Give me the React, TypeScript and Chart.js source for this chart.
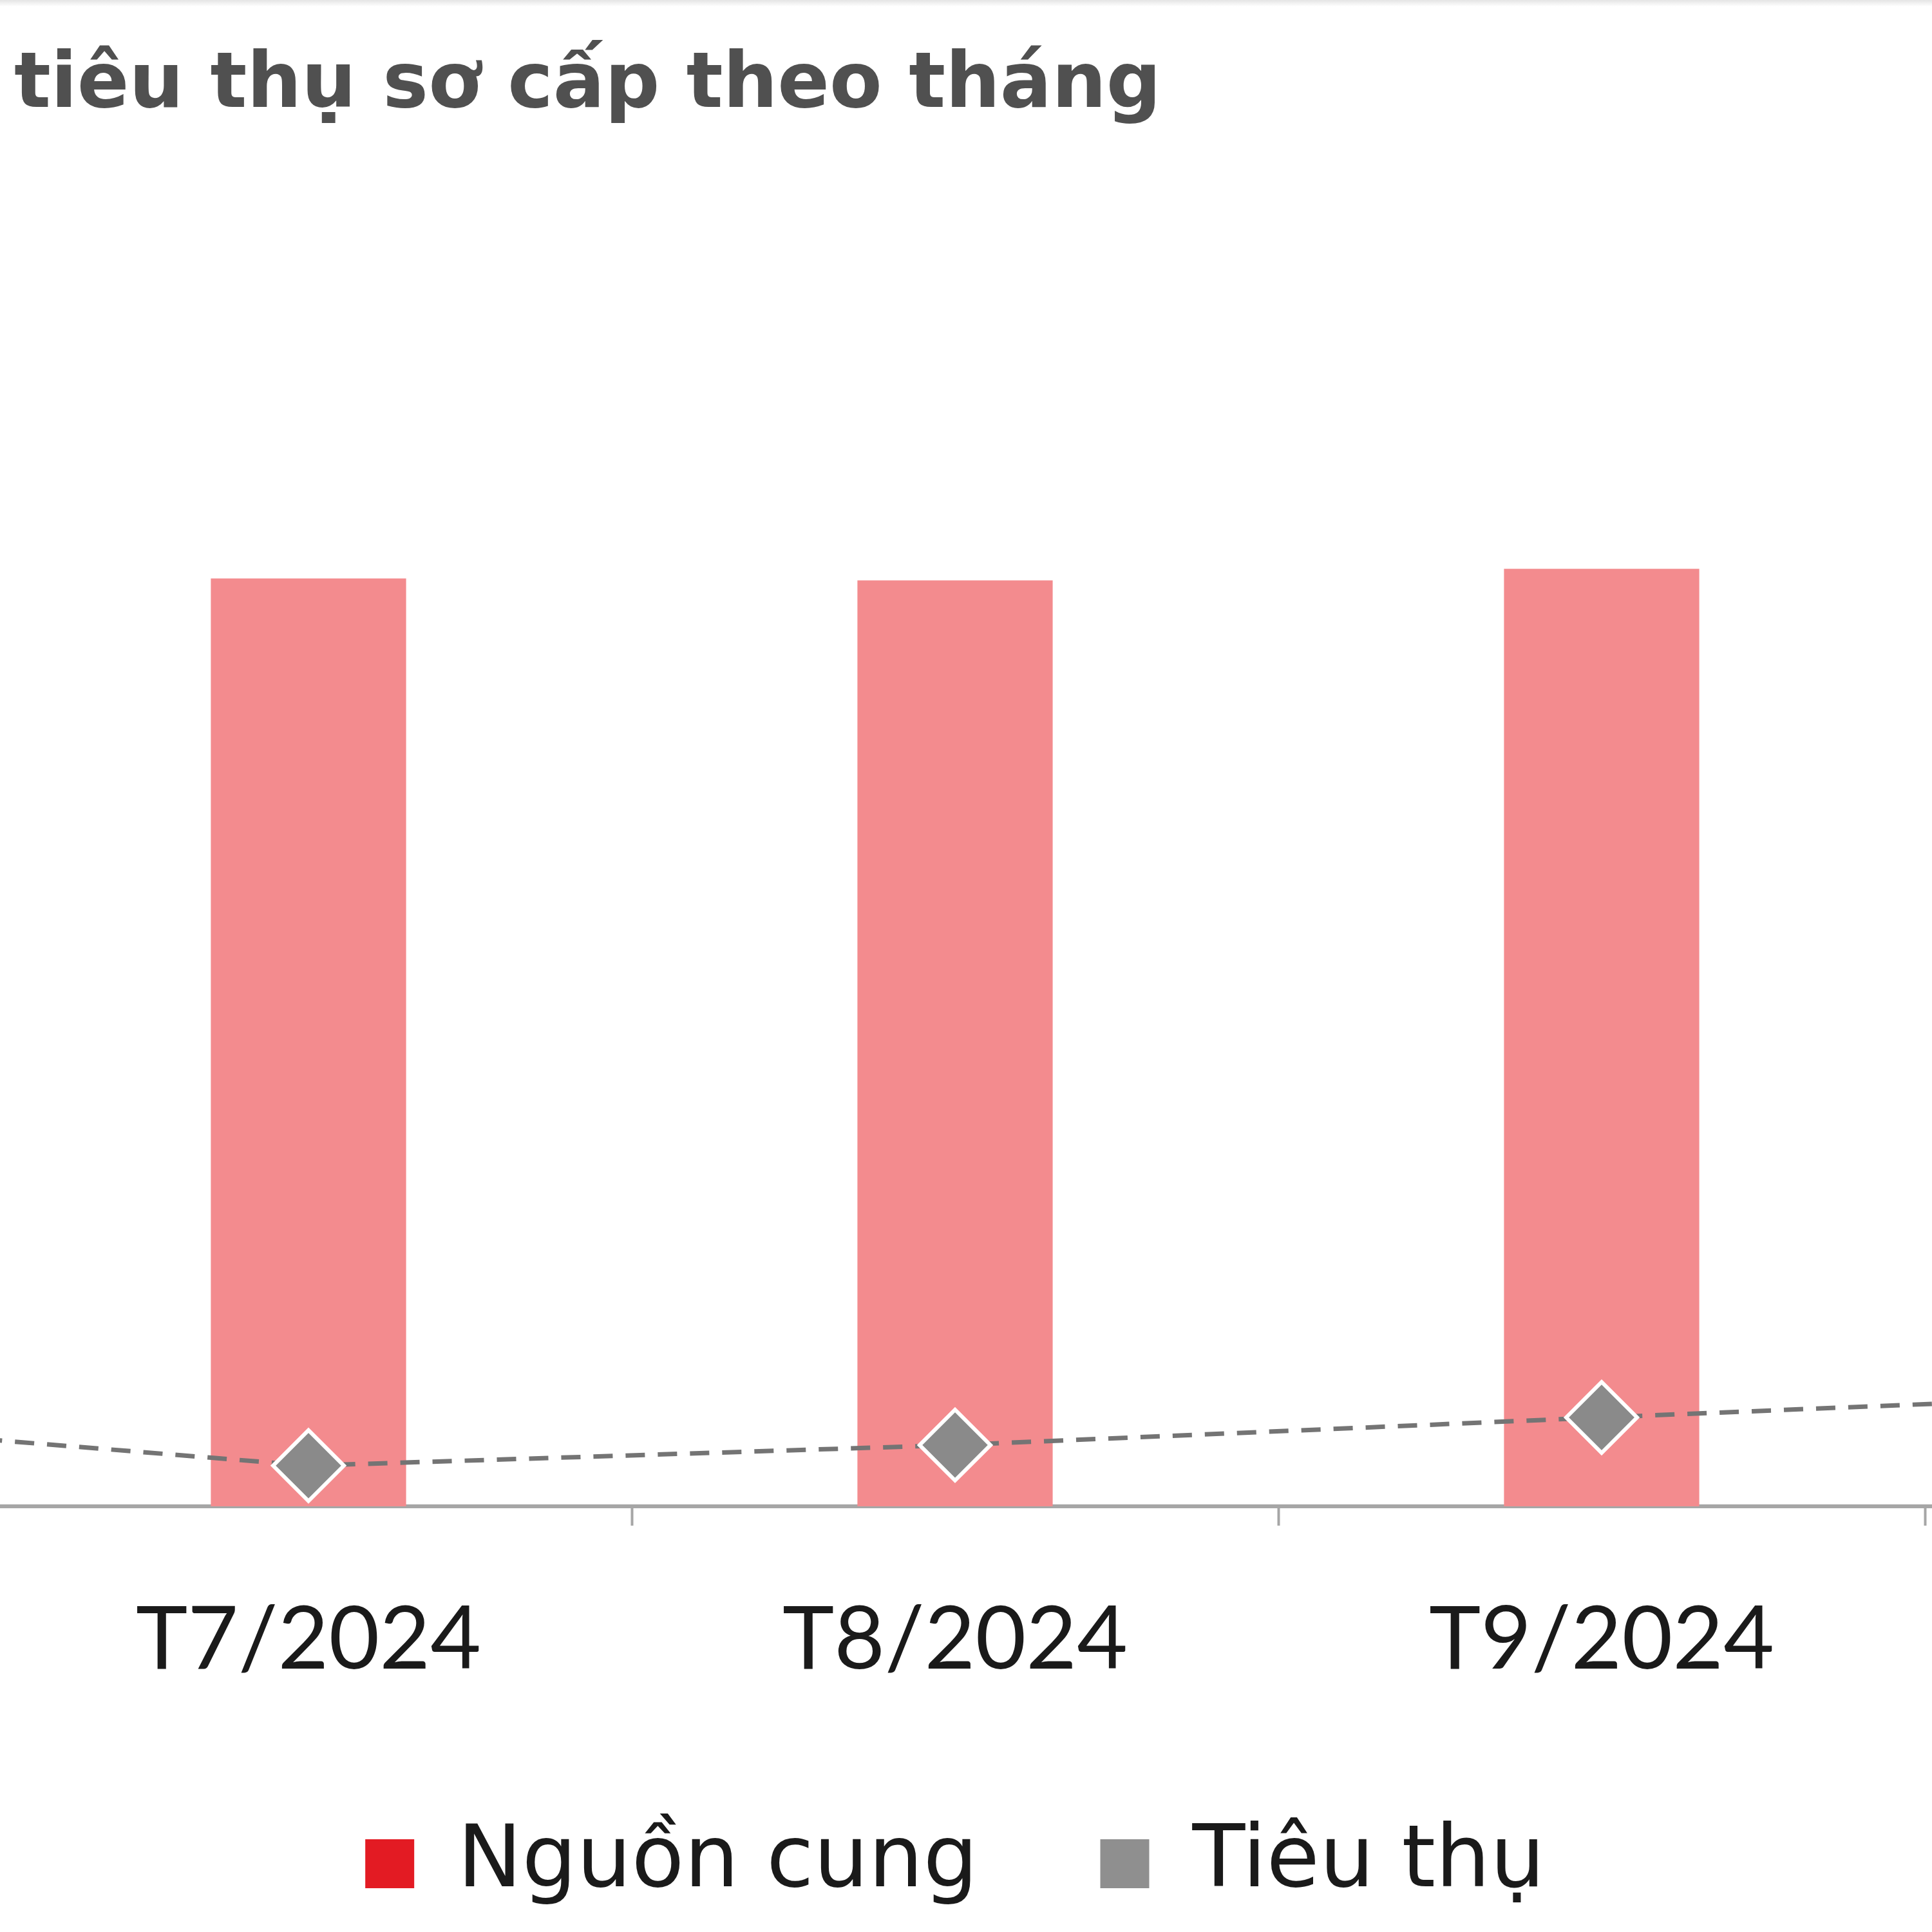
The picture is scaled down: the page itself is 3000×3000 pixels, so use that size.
import { useEffect, useRef } from 'react';
import { Chart, registerables } from 'chart.js';

Chart.register(...registerables);

// months (first and last are only partly in view: their bars are off-canvas)
const months = ['T6/2024', 'T7/2024', 'T8/2024', 'T9/2024', 'T10/2024'];
const supply = [null, 1848, 1844, 1867, null]; // Nguồn cung
const consumption = [186, 81, 122, 177, 230]; // Tiêu thụ
const seriesNames = ['Nguồn cung', 'Tiêu thụ'];
const legendColors = ['#e31b23', '#8f8f8f'];
const yMax = 3000;

export default function App() {
  const canvasRef = useRef<HTMLCanvasElement>(null);
  const chartRef = useRef<Chart | null>(null);

  useEffect(() => {
    if (!canvasRef.current) return;
    chartRef.current = new Chart(canvasRef.current, {
      type: 'bar',
      data: {
        labels: months,
        datasets: [
          {
            type: 'bar',
            label: seriesNames[0],
            data: supply,
            backgroundColor: '#f38b8e',
            borderWidth: 0,
            categoryPercentage: 1,
            barPercentage: 0.302,
            order: 1,
          },
          {
            type: 'line',
            label: seriesNames[1],
            data: consumption,
            borderColor: '#747474',
            backgroundColor: '#8f8f8f',
            borderWidth: 7,
            borderDash: [30, 20],
            tension: 0,
            pointStyle: 'rectRot',
            pointRadius: 55,
            pointBackgroundColor: '#8a8a8a',
            pointBorderColor: '#ffffff',
            pointBorderWidth: 6,
            order: 0,
          },
        ],
      },
      options: {
        responsive: false,
        devicePixelRatio: 1,
        animation: false,
        layout: { padding: 0, autoPadding: false },
        plugins: {
          title: { display: false },
          tooltip: { enabled: false },
          legend: {
            position: 'bottom',
            labels: {
              boxWidth: 76,
              boxHeight: 76,
              padding: 190,
              color: '#1a1a1a',
              font: { family: 'DejaVu Sans', size: 134 },
              sort: (a: any, b: any) => a.datasetIndex - b.datasetIndex,
              generateLabels: (chart: Chart) =>
                Chart.defaults.plugins.legend.labels
                  .generateLabels(chart)
                  .map((item: any) => ({
                    ...item,
                    fillStyle: legendColors[item.datasetIndex],
                    strokeStyle: legendColors[item.datasetIndex],
                    lineWidth: 0,
                    lineDash: [],
                  })),
            },
          },
        },
        scales: {
          x: {
            offset: true,
            border: { display: true, color: '#a6a6a6', width: 6 },
            grid: {
              display: true,
              offset: true,
              drawOnChartArea: false,
              drawTicks: true,
              tickLength: 30,
              tickColor: '#a6a6a6',
              tickWidth: 4,
            },
            ticks: {
              color: '#1a1a1a',
              font: { family: 'Lato', size: 136, lineHeight: 1.2 },
              padding: 97,
              maxRotation: 0,
              autoSkip: false,
            },
            afterFit: (scale: any) => {
              scale.height = 298;
            },
          },
          y: {
            display: false,
            min: 0,
            max: yMax,
          },
        },
      },
    });
    return () => {
      chartRef.current?.destroy();
    };
  }, []);

  return (
    <div
      style={{
        position: 'fixed',
        left: 0,
        top: 0,
        width: 3000,
        height: 3000,
        overflow: 'hidden',
        background: '#ffffff',
      }}
    >
      <div
        style={{
          position: 'absolute',
          left: 0,
          top: 0,
          width: 3000,
          height: 10,
          background: 'linear-gradient(#e4e4e4, #ffffff)',
        }}
      />
      <canvas
        ref={canvasRef}
        width={5020}
        height={2971}
        style={{ position: 'absolute', left: -1027, top: 0, width: 5020, height: 2971, display: 'block' }}
      />
      <div
        style={{
          position: 'absolute',
          left: 22,
          top: 66,
          fontFamily: '"DejaVu Sans", sans-serif',
          fontWeight: 'bold',
          fontSize: 119,
          lineHeight: 1,
          color: '#505050',
          whiteSpace: 'nowrap',
        }}
      >
        tiêu thụ sơ cấp theo tháng
      </div>
    </div>
  );
}
